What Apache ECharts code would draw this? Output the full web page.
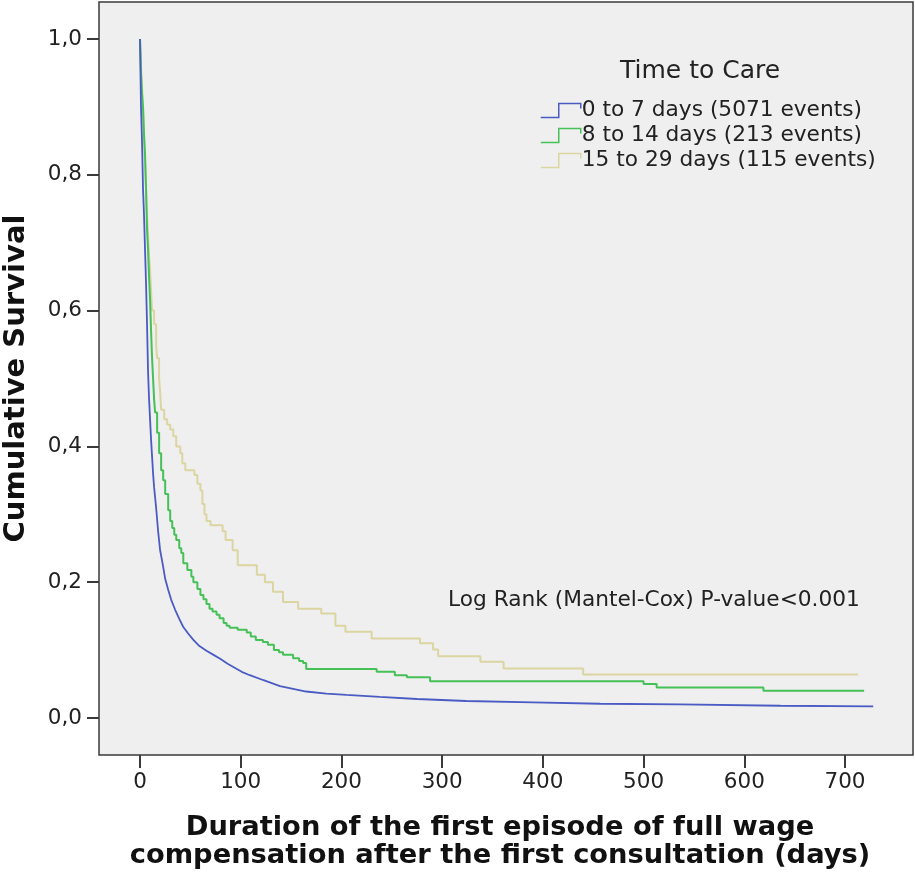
<!DOCTYPE html>
<html>
<head>
<meta charset="utf-8">
<script src="https://cdn.jsdelivr.net/npm/echarts@6/dist/echarts.min.js"></script>
<style>
  html, body { margin: 0; padding: 0; background: #fff; }
  #mainchart { width: 915px; height: 873px; }
</style>
</head>
<body>
<div id="mainchart"></div>
<script>
// groups (Time to Care)
var groupNames = ['0 to 7 days (5071 events)', '8 to 14 days (213 events)', '15 to 29 days (115 events)'];
var groupColors = ['#4a5bc3', '#45c158', '#dbd5a2'];

// 0 to 7 days
var blueDays = [0, 1, 2, 3, 4, 5, 6, 7, 8, 9, 10, 11, 12, 13, 14, 15, 16, 18, 20, 23, 25, 28, 31, 35, 39, 43, 48, 53, 59, 66, 73, 80, 87, 94, 101, 109, 122, 139, 152, 165, 185, 205, 238, 275, 324, 390, 457, 536, 636, 728];
var blueSurv = [1.0, 0.9, 0.85, 0.78, 0.74, 0.69, 0.64, 0.58, 0.51, 0.47, 0.44, 0.41, 0.385, 0.36, 0.34, 0.325, 0.31, 0.275, 0.247, 0.223, 0.205, 0.189, 0.174, 0.159, 0.146, 0.134, 0.124, 0.115, 0.106, 0.099, 0.093, 0.087, 0.08, 0.074, 0.068, 0.063, 0.056, 0.047, 0.043, 0.039, 0.036, 0.034, 0.031, 0.028, 0.025, 0.023, 0.021, 0.02, 0.018, 0.017];

// 8 to 14 days
var greenDays = [0, 0.5, 1, 2, 3, 4, 5, 6, 7, 8, 9, 10, 11, 12, 13, 14, 15, 17, 19, 21, 23, 25, 28, 30, 32, 34, 36, 39, 41, 43, 47, 51, 53, 57, 60, 63, 66, 69, 72, 76, 79, 83, 86, 89, 97, 106, 110, 115, 122, 127, 133, 138, 142, 152, 158, 162, 165, 235, 253, 265, 288, 500, 513, 619, 719];
var greenSurv = [1.0, 0.98, 0.95, 0.92, 0.9, 0.86, 0.83, 0.78, 0.72, 0.69, 0.65, 0.616, 0.57, 0.53, 0.5, 0.47, 0.45, 0.42, 0.39, 0.365, 0.35, 0.33, 0.306, 0.29, 0.28, 0.27, 0.262, 0.25, 0.243, 0.228, 0.218, 0.208, 0.2, 0.19, 0.181, 0.175, 0.168, 0.161, 0.157, 0.152, 0.147, 0.14, 0.136, 0.133, 0.13, 0.126, 0.12, 0.115, 0.112, 0.108, 0.1, 0.097, 0.093, 0.088, 0.084, 0.081, 0.072, 0.068, 0.063, 0.06, 0.054, 0.05, 0.045, 0.04, 0.04];

// 15 to 29 days
var yellowDays = [0, 0.5, 1, 2, 3, 4, 5, 6, 7, 8, 9, 10, 11, 12, 14, 16, 17, 19, 20, 21, 24, 27, 30, 33, 36, 40, 42, 45, 54, 57, 60, 62, 64, 66, 70, 82, 85, 92, 97, 116, 124, 132, 142, 157, 180, 194, 204, 230, 278, 291, 296, 338, 361, 440, 713];
var yellowSurv = [1.0, 0.98, 0.96, 0.93, 0.9, 0.85, 0.82, 0.78, 0.74, 0.71, 0.68, 0.66, 0.63, 0.6, 0.58, 0.55, 0.53, 0.5, 0.48, 0.454, 0.44, 0.432, 0.425, 0.415, 0.4, 0.39, 0.375, 0.365, 0.358, 0.345, 0.335, 0.315, 0.3, 0.29, 0.284, 0.275, 0.262, 0.247, 0.225, 0.211, 0.2, 0.186, 0.171, 0.161, 0.154, 0.136, 0.127, 0.117, 0.11, 0.101, 0.091, 0.083, 0.073, 0.064, 0.064];

// ticks
var xTicks = [0, 100, 200, 300, 400, 500, 600, 700];
var yTicks = [0, 0.2, 0.4, 0.6, 0.8, 1.0];

function zip(a, b) {
    return a.map(function(v, i) { return [v, b[i]]; });
}

var font = 'DejaVu Sans';
var myChart = echarts.init(document.getElementById('mainchart'), null, {renderer: 'canvas'});

var option = {
    animation: false,
    backgroundColor: '#ffffff',
    title: [{
        text: 'Time to Care',
        left: 620, top: 59, padding: 0,
        textStyle: {fontFamily: font, fontSize: 25, fontWeight: 'normal', color: '#222'}
    }, {
        text: 'Log Rank (Mantel-Cox) P-value<0.001',
        left: 448, top: 589, padding: 0,
        textStyle: {fontFamily: font, fontSize: 21.7, fontWeight: 'normal', color: '#222'}
    }],
    legend: {
        orient: 'vertical',
        left: 540, top: 99, padding: 0,
        itemWidth: 40, itemHeight: 14, itemGap: 2,
        icon: 'path://M0,14 L18,14 L18,0 L40,0 L40,5',
        textStyle: {fontFamily: font, fontSize: 21.7, color: '#222', lineHeight: 23, padding: [0, 0, 0, -4]},
        data: groupNames.map(function(n, i) {
            return {name: n, itemStyle: {color: 'rgba(0,0,0,0)', borderColor: groupColors[i], borderWidth: 1.5}};
        })
    },
    grid: {
        left: 99, right: 2, top: 2, bottom: 118,
        containLabel: false, outerBoundsMode: 'none',
        show: true, backgroundColor: '#efefef', borderColor: '#3a3a3a', borderWidth: 1.5
    },
    xAxis: {
        type: 'value', min: -40.7, max: 767.5,
        name: 'Duration of the first episode of full wage\ncompensation after the first consultation (days)',
        nameLocation: 'middle', nameGap: 59,
        nameTextStyle: {fontFamily: font, fontSize: 27.3, fontWeight: 'bold', color: '#111', lineHeight: 28, padding: [0, 12, 0, 0]},
        axisLine: {show: false, onZero: false},
        axisTick: {show: true, length: 13, customValues: xTicks, lineStyle: {color: '#3a3a3a', width: 2}},
        axisLabel: {customValues: xTicks, margin: 16, fontFamily: font, fontSize: 21.5, color: '#222'},
        splitLine: {show: false}
    },
    yAxis: {
        type: 'value', min: -0.0545, max: 1.0545,
        name: 'Cumulative Survival',
        nameLocation: 'middle', nameGap: 68,
        nameTextStyle: {fontFamily: font, fontSize: 29, fontWeight: 'bold', color: '#111'},
        axisLine: {show: false, onZero: false},
        axisTick: {show: true, length: 12, customValues: yTicks, lineStyle: {color: '#3a3a3a', width: 2}},
        axisLabel: {
            customValues: yTicks, margin: 17, fontFamily: font, fontSize: 21.5, color: '#222',
            formatter: function(v) { return v.toFixed(1).replace('.', ','); }
        },
        splitLine: {show: false}
    },
    series: [{
        name: groupNames[2], type: 'line', step: 'end', showSymbol: false,
        lineStyle: {color: groupColors[2], width: 2}, itemStyle: {color: groupColors[2]},
        data: zip(yellowDays, yellowSurv), z: 2
    }, {
        name: groupNames[1], type: 'line', step: 'end', showSymbol: false,
        lineStyle: {color: groupColors[1], width: 2}, itemStyle: {color: groupColors[1]},
        data: zip(greenDays, greenSurv), z: 3
    }, {
        name: groupNames[0], type: 'line', showSymbol: false,
        lineStyle: {color: groupColors[0], width: 1.8}, itemStyle: {color: groupColors[0]},
        data: zip(blueDays, blueSurv), z: 4
    }]
};
myChart.setOption(option);
</script>
</body>
</html>
